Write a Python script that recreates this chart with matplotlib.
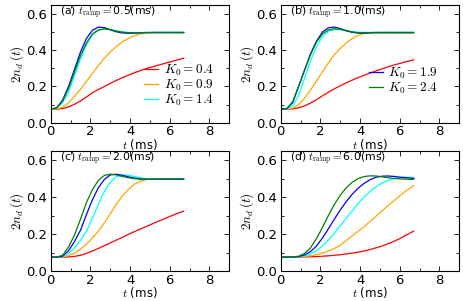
import matplotlib
matplotlib.use("Agg")
import matplotlib.pyplot as plt
from matplotlib.ticker import MultipleLocator

plt.rcParams['mathtext.fontset'] = 'cm'
plt.rcParams['font.family'] = ['DejaVu Sans']

t = [0.0, 0.3, 0.6, 0.9, 1.2, 1.5, 1.8, 2.1, 2.4, 2.7, 3.0, 3.3, 3.6, 3.9,
     4.2, 4.5, 4.8, 5.1, 5.4, 5.7, 6.0, 6.3, 6.6, 6.7]

k0_labels = ["0.4", "0.9", "1.4", "1.9", "2.4"]
colors = ["red", "orange", "cyan", "blue", "green"]
ramp_labels = ["(a)", "(b)", "(c)", "(d)"]
ramp_values = ["0.5", "1.0", "2.0", "6.0"]

# panel (a) t_ramp = 0.5 ms
a_k04 = [.075, .075, .078, .087, .102, .120, .142, .165, .183, .200, .217, .233,
         .248, .262, .275, .287, .298, .308, .317, .326, .335, .344, .353, .356]
a_k09 = [.075, .076, .085, .110, .145, .185, .228, .272, .315, .355, .390, .420,
         .445, .465, .480, .490, .496, .499, .500, .500, .500, .500, .500, .500]
a_k14 = [.075, .080, .110, .170, .260, .350, .430, .485, .510, .518, .515, .508,
         .502, .499, .498, .498, .499, .499, .500, .500, .500, .500, .500, .500]
a_k19 = [.075, .082, .125, .200, .295, .390, .465, .510, .528, .525, .513, .502,
         .496, .494, .495, .496, .497, .497, .497, .497, .497, .497, .497, .497]
a_k24 = [.075, .082, .120, .190, .280, .370, .440, .490, .512, .518, .514, .506,
         .500, .497, .496, .497, .498, .498, .498, .498, .498, .498, .498, .498]

# panel (b) t_ramp = 1.0 ms
b_k04 = [.075, .075, .076, .082, .093, .108, .127, .148, .168, .187, .204, .220,
         .235, .249, .262, .274, .286, .297, .308, .318, .327, .336, .344, .347]
b_k09 = [.075, .075, .080, .100, .135, .180, .230, .280, .330, .375, .410, .440,
         .465, .482, .492, .497, .500, .500, .500, .500, .500, .500, .500, .500]
b_k14 = [.075, .076, .090, .150, .245, .340, .420, .475, .505, .515, .514, .508,
         .503, .500, .499, .499, .499, .500, .500, .500, .500, .500, .500, .500]
b_k19 = [.075, .077, .110, .200, .290, .380, .450, .500, .524, .528, .520, .508,
         .499, .495, .495, .496, .497, .497, .497, .497, .497, .497, .497, .497]
b_k24 = [.075, .078, .115, .200, .290, .375, .445, .490, .512, .519, .516, .508,
         .501, .497, .496, .497, .497, .497, .497, .497, .497, .497, .497, .497]

# panel (c) t_ramp = 2.0 ms
c_k04 = [.075, .075, .075, .076, .079, .085, .095, .108, .122, .137, .152, .167,
         .182, .197, .212, .226, .240, .254, .268, .281, .295, .308, .320, .324]
c_k09 = [.075, .075, .076, .083, .097, .118, .145, .178, .215, .260, .310, .360,
         .405, .440, .468, .485, .494, .498, .500, .500, .500, .500, .500, .500]
c_k14 = [.075, .075, .078, .095, .125, .165, .215, .285, .360, .430, .480, .510,
         .520, .518, .512, .505, .500, .498, .498, .498, .498, .498, .498, .498]
c_k19 = [.075, .075, .080, .110, .160, .220, .305, .385, .450, .495, .520, .524,
         .518, .510, .503, .499, .497, .497, .497, .497, .497, .497, .497, .497]
c_k24 = [.075, .075, .085, .130, .195, .280, .370, .440, .490, .517, .524, .520,
         .512, .505, .500, .497, .496, .496, .497, .497, .497, .497, .497, .497]

# panel (d) t_ramp = 6.0 ms
d_k04 = [.075, .075, .075, .075, .076, .077, .078, .080, .082, .085, .088, .092,
         .097, .102, .108, .116, .125, .135, .147, .160, .175, .193, .210, .216]
d_k09 = [.075, .075, .075, .076, .078, .082, .088, .097, .108, .122, .139, .165,
         .190, .215, .240, .268, .296, .325, .353, .380, .407, .432, .455, .462]
d_k14 = [.075, .075, .075, .077, .082, .092, .110, .135, .168, .205, .245, .285,
         .325, .365, .400, .430, .455, .475, .490, .499, .505, .507, .507, .506]
d_k19 = [.075, .075, .075, .078, .087, .105, .135, .178, .228, .280, .330, .375,
         .415, .448, .474, .494, .507, .513, .514, .512, .508, .505, .502, .501]
d_k24 = [.075, .075, .076, .080, .095, .125, .175, .235, .300, .360, .410, .450,
         .480, .500, .511, .515, .514, .510, .505, .501, .499, .497, .496, .496]

panels = [
    [a_k04, a_k09, a_k14, a_k19, a_k24],
    [b_k04, b_k09, b_k14, b_k19, b_k24],
    [c_k04, c_k09, c_k14, c_k19, c_k24],
    [d_k04, d_k09, d_k14, d_k19, d_k24],
]

fig = plt.figure(figsize=(4.63, 3.01), dpi=100)
rects = [
    [0.1095, 0.5924, 0.3857, 0.391],
    [0.6063, 0.5924, 0.3857, 0.391],
    [0.1095, 0.0997, 0.3857, 0.399],
    [0.6063, 0.0997, 0.3857, 0.399],
]

leg_kw = dict(loc='lower right', frameon=False, fontsize=9.5,
              handlelength=1.1, handletextpad=0.4, labelspacing=-0.02,
              borderpad=0.0)

for i, (rect, series) in enumerate(zip(rects, panels)):
    ax = fig.add_axes(rect)
    lines = []
    for y, c, k in zip(series, colors, k0_labels):
        ln, = ax.plot(t, y, color=c, lw=0.9, label=r"$K_0=%s$" % k)
        lines.append(ln)
    ax.set_xlim(0, 9)
    ax.set_ylim(0, 0.65)
    ax.xaxis.set_major_locator(MultipleLocator(2))
    ax.xaxis.set_minor_locator(MultipleLocator(1))
    ax.yaxis.set_major_locator(MultipleLocator(0.2))
    ax.yaxis.set_minor_locator(MultipleLocator(0.1))
    ax.tick_params(which='both', direction='in', top=True, right=True,
                   labelsize=9.5, width=0.6, pad=2.5)
    ax.tick_params(axis='x', which='major', pad=2)
    ax.tick_params(which='major', length=3.5)
    ax.tick_params(which='minor', length=2)
    for s in ax.spines.values():
        s.set_linewidth(0.8)
    ax.set_xlabel(r"$t$ (ms)", fontsize=8.5, labelpad=-1.0)
    ax.set_ylabel(r"$2n_d\,(t)$", fontsize=9.5, labelpad=0.5)
    ax.text(0.45, 0.605, ramp_labels[i] + r" $t_{\rm ramp}=$" + ramp_values[i] + "(ms)",
            fontsize=7.8, transform=ax.transData, va='center', ha='left')
    if i == 0:
        ax.legend(handles=lines[:3], bbox_to_anchor=(0.95, 0.07), **leg_kw)
    elif i == 1:
        ax.legend(handles=lines[3:], bbox_to_anchor=(0.92, 0.17), **leg_kw)

fig.savefig("out.png", dpi=100)
